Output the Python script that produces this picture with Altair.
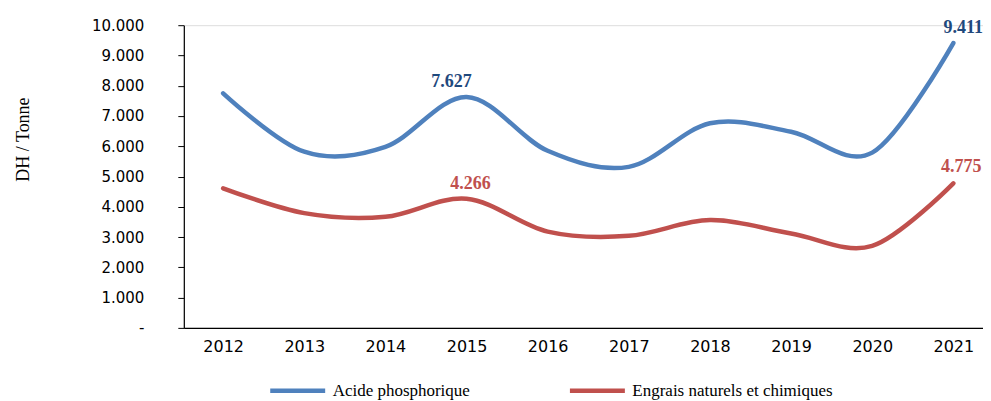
import altair as alt
import pandas as pd

years = ["2012", "2013", "2014", "2015", "2016", "2017", "2018", "2019", "2020", "2021"]
series_names = ["Acide phosphorique", "Engrais naturels et chimiques"]
acide = [7750, 5820, 5980, 7627, 5850, 5320, 6760, 6480, 5790, 9411]
engrais = [4610, 3790, 3670, 4266, 3180, 3040, 3560, 3120, 2710, 4775]
label_years = ["2015", "2021"]
y_ticks = [0, 1000, 2000, 3000, 4000, 5000, 6000, 7000, 8000, 9000, 10000]

line_colors = ["#4F81BD", "#C0504D"]
label_colors = {"Acide phosphorique": "#1F497D", "Engrais naturels et chimiques": "#C0504D"}

rows = []
for y, v in zip(years, acide):
    rows.append({"year": y, "series": series_names[0], "value": v})
for y, v in zip(years, engrais):
    rows.append({"year": y, "series": series_names[1], "value": v})
df = pd.DataFrame(rows)

x_enc = alt.X(
    "year:O",
    title=None,
    scale=alt.Scale(type="point", padding=0.425, align=0.57),
    axis=alt.Axis(
        labelAngle=0, ticks=False, domainColor="#000000", domainWidth=1.2,
        labelFont="DejaVu Sans", labelFontSize=16, labelColor="#000000",
        labelPadding=11,
    ),
)
y_enc = alt.Y(
    "value:Q",
    title="DH / Tonne",
    scale=alt.Scale(domain=[0, 10000], nice=False),
    axis=alt.Axis(
        values=y_ticks, grid=False, tickSize=6, tickColor="#000000",
        domainColor="#000000", domainWidth=1.2, labelOverlap=False,
        labelFont="DejaVu Sans", labelFontSize=15, labelColor="#000000",
        labelPadding=34,
        labelExpr="datum.value == 0 ? '-\u00a0\u00a0\u00a0' : replace(format(datum.value, ','), ',', '.')",
        titleFont="Liberation Serif", titleFontSize=18, titleFontWeight="normal",
        titleColor="#000000", titleX=-160, titleY=114, titleAngle=-90,
        titleAlign="center", titleBaseline="middle",
    ),
)

base = alt.Chart(df)

lines = base.mark_line(interpolate="cardinal", strokeWidth=4.5, strokeCap="round").encode(
    x=x_enc,
    y=y_enc,
    color=alt.Color(
        "series:N",
        scale=alt.Scale(domain=series_names, range=line_colors),
        legend=alt.Legend(
            title=None, orient="none", direction="horizontal",
            legendX=84, legendY=336, padding=0,
            symbolType="stroke", symbolSize=3025, symbolStrokeWidth=4.5,
            labelFont="Liberation Serif", labelFontSize=17, labelColor="#000000",
            labelOffset=5, columnPadding=90, labelLimit=400,
        ),
    ),
)

def label_layer(series, year, dx, dy):
    return (
        base.transform_filter(
            (alt.datum.series == series) & (alt.datum.year == year)
        )
        .transform_calculate(txt="replace(format(datum.value, ','), ',', '.')")
        .mark_text(
            font="Liberation Serif", fontSize=18, fontWeight="bold",
            color=label_colors[series], align="center", baseline="alphabetic",
            dx=dx, dy=dy,
        )
        .encode(x=x_enc, y=y_enc, text="txt:N")
    )

labels = [
    label_layer(series_names[0], label_years[0], -15, -10),
    label_layer(series_names[1], label_years[0], 4, -10),
    label_layer(series_names[0], label_years[1], 10, -10),
    label_layer(series_names[1], label_years[1], 8, -11),
]

chart = alt.layer(lines, *labels).properties(
    width=800,
    height=303,
    autosize=alt.AutoSizeParams(type="none"),
    padding={"left": 176, "top": 17, "right": 0, "bottom": 82},
).configure_view(stroke=None).configure(background="#ffffff")

chart.save("out.html", embed_options={"renderer": "svg", "actions": False})
